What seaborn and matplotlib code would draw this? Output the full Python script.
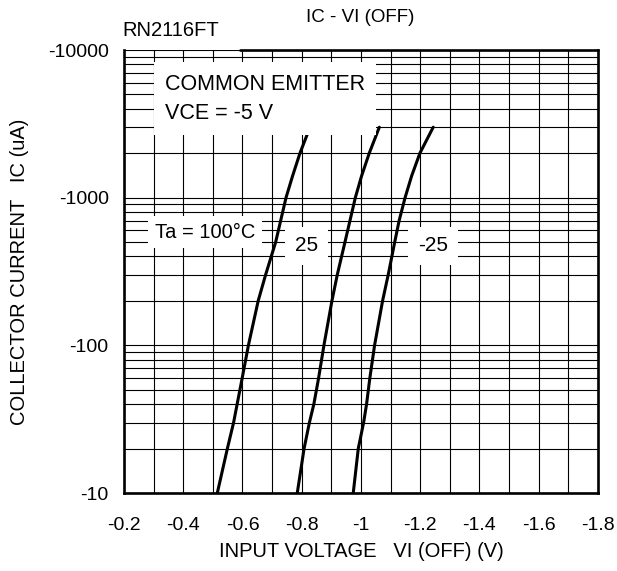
import numpy as np
import pandas as pd
import matplotlib
matplotlib.use('Agg')
import matplotlib.pyplot as plt
import matplotlib.ticker as mticker
import seaborn as sns

# data (IC in uA magnitude, VI in V)
ic_ua = [10, 20, 30, 40, 60, 100, 200, 300, 500, 700, 1000, 1400, 2000, 3000]
vi_100c = [-0.515, -0.549, -0.570, -0.582, -0.599, -0.620, -0.653, -0.678, -0.712, -0.729, -0.747, -0.769, -0.794, -0.828]
vi_25c = [-0.785, -0.808, -0.826, -0.841, -0.857, -0.875, -0.902, -0.920, -0.946, -0.963, -0.981, -1.002, -1.028, -1.062]
vi_m25c = [-0.974, -0.991, -1.009, -1.019, -1.030, -1.046, -1.073, -1.092, -1.114, -1.129, -1.149, -1.171, -1.199, -1.244]

x_ticks = [-0.2, -0.4, -0.6, -0.8, -1.0, -1.2, -1.4, -1.6, -1.8]
x_labels = ['-0.2', '-0.4', '-0.6', '-0.8', '-1', '-1.2', '-1.4', '-1.6', '-1.8']
y_ticks = [10, 100, 1000, 10000]
y_labels = ['-10', '-100', '-1000', '-10000']

df = pd.concat([
    pd.DataFrame({'vi': vi_100c, 'ic': ic_ua, 'ta': '100'}),
    pd.DataFrame({'vi': vi_25c, 'ic': ic_ua, 'ta': '25'}),
    pd.DataFrame({'vi': vi_m25c, 'ic': ic_ua, 'ta': '-25'}),
])

sns.set_style('white')
plt.rcParams['font.family'] = ['Liberation Sans', 'DejaVu Sans']
plt.rcParams['axes.unicode_minus'] = False
plt.rcParams['text.color'] = 'black'
plt.rcParams['axes.labelcolor'] = 'black'
plt.rcParams['xtick.color'] = 'black'
plt.rcParams['ytick.color'] = 'black'

fig = plt.figure(figsize=(6.17, 5.71), dpi=100)
ax = fig.add_axes([0.201, 0.1366, 0.768, 0.7758])

sns.lineplot(data=df, x='vi', y='ic', hue='ta', palette=['black'] * 3,
             sort=False, estimator=None, legend=False, lw=2.2, ax=ax, zorder=3)

ax.set_yscale('log')
ax.set_xlim(-0.2, -1.8)
ax.set_ylim(10, 10000)

ax.set_xticks(x_ticks)
ax.set_xticklabels(x_labels)
ax.set_xticks(np.arange(-0.3, -1.75, -0.2), minor=True)
ax.set_yticks(y_ticks)
ax.set_yticklabels(y_labels)
ax.yaxis.set_minor_locator(mticker.LogLocator(base=10, subs=np.arange(2, 10)))
ax.yaxis.set_minor_formatter(mticker.NullFormatter())

ax.grid(which='both', color='black', lw=0.8)
ax.tick_params(which='both', length=0, labelsize=14)
ax.tick_params(axis='y', pad=11)
ax.tick_params(axis='x', pad=17)

for side in ['left', 'right', 'bottom']:
    ax.spines[side].set_linewidth(1.9)
    ax.spines[side].set_color('black')
ax.spines['top'].set_visible(False)
ax.axhline(10000, xmin=0.245, xmax=1, color='black', lw=1.9, clip_on=False, zorder=4)

ax.set_xlabel('INPUT VOLTAGE   VI (OFF) (V)', fontsize=14.5)
ax.set_ylabel('COLLECTOR CURRENT   IC (uA)', fontsize=14.5)
ax.xaxis.set_label_coords(0.5, -0.11)
ax.yaxis.set_label_coords(-0.2, 0.5)

fig.text(360 / 617, 1 - 18 / 571, 'IC - VI (OFF)', fontsize=13.5, ha='center', va='center')
fig.text(122 / 617, 1 - 31 / 571, 'RN2116FT', fontsize=14.5, ha='left', va='center')

box = dict(facecolor='white', edgecolor='none')
ax.text(-0.338, 4690, 'COMMON EMITTER\nVCE = -5 V', fontsize=15.5, ha='left', va='center',
        linespacing=1.5, bbox=dict(box, pad=8), zorder=5)
ax.text(-0.473, 585, 'Ta = 100°C', fontsize=14.5, ha='center', va='center',
        bbox=dict(box, pad=5), zorder=5)
ax.text(-0.817, 471, '25', fontsize=15, ha='center', va='center',
        bbox=dict(box, pad=7), zorder=5)
ax.text(-1.243, 471, '-25', fontsize=15, ha='center', va='center',
        bbox=dict(box, pad=7), zorder=5)

plt.savefig('out.png', dpi=100)
